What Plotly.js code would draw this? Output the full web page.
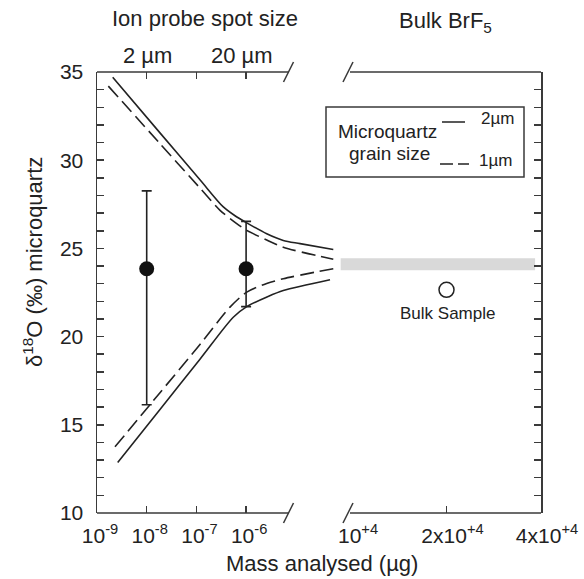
<!DOCTYPE html>
<html>
<head>
<meta charset="utf-8">
<script src="https://cdn.plot.ly/plotly-3.0.1.min.js"></script>
<style>
  html, body { margin: 0; padding: 0; background: #fff; }
  #chart { width: 584px; height: 579px; }
</style>
</head>
<body>
<div id="chart"></div>
<script>
// ---------- data ----------
// Model curves: mass analysed (µg) vs δ18O of microquartz
const upperSolidX  = [2.07e-9, 1.85e-8, 1.18e-7, 3.48e-7, 5.98e-7, 1.03e-6, 2.60e-6, 5.6e-6, 1.22e-5, 5.68e-5];
const upperSolidY  = [34.70, 31.55, 28.89, 27.35, 26.85, 26.45, 25.83, 25.45, 25.27, 24.94];
const upperDashedX = [1.69e-9, 1.85e-8, 1.18e-7, 2.99e-7, 5.98e-7, 1.03e-6, 2.60e-6, 5.6e-6, 5.68e-5];
const upperDashedY = [34.20, 30.94, 28.42, 27.16, 26.48, 26.02, 25.48, 25.07, 24.38];
const lowerDashedX = [2.30e-9, 1.85e-8, 1.18e-7, 4.74e-7, 1.03e-6, 2.60e-6, 5.6e-6, 5.68e-5];
const lowerDashedY = [13.75, 16.82, 19.55, 21.67, 22.52, 23.01, 23.28, 23.85];
const lowerSolidX  = [2.61e-9, 1.85e-8, 1.18e-7, 5.52e-7, 1.03e-6, 2.60e-6, 5.6e-6, 4.88e-5];
const lowerSolidY  = [12.86, 15.87, 18.72, 21.10, 21.70, 22.24, 22.61, 23.22];

// Ion probe measurements
const probeX      = [1e-8, 1e-6];
const probeY      = [23.85, 23.85];
const probeErrUp  = [4.41, 2.68];
const probeErrDn  = [7.71, 2.15];

// Bulk BrF5
const bulkBandX   = [9200, 38300];
const bulkBandY   = [24.1, 24.1];
const bulkSampleX = [2e4];
const bulkSampleY = [22.65];

// Tick labels
const leftTickVals  = [1e-9, 1e-8, 1e-7, 1e-6];
const leftTickText  = ["10<sup>-9</sup>", "10<sup>-8</sup>", "10<sup>-7</sup>", "10<sup>-6</sup>"];
const rightTickVals = [1e4, 2e4, 4e4];
const rightTickText = ["10<sup>+4</sup>", "2x10<sup>+4</sup>", "4x10<sup>+4</sup>"];
const yTickVals     = [10, 15, 20, 25, 30, 35];

// ---------- layout helpers ----------
const W = 584, H = 579, ML = 97, MR = 43, MT = 72, MB = 66;
const PW = W - ML - MR, PH = H - MT - MB;
const fx = px => (px - ML) / PW;
const fy = py => (H - MB - py) / PH;

const INK = '#222';
const AX = '#3a3a3a';
const FONT = 'Liberation Sans, Arial, sans-serif';

const lineSolid  = {color: INK, width: 1.6, shape: 'spline', smoothing: 0.8};
const lineDashed = {color: INK, width: 1.6, dash: '14px,6px', shape: 'spline', smoothing: 0.8};

const traces = [
  {x: upperSolidX, y: upperSolidY, mode: 'lines', line: lineSolid, xaxis: 'x', yaxis: 'y'},
  {x: upperDashedX, y: upperDashedY, mode: 'lines', line: lineDashed, xaxis: 'x', yaxis: 'y'},
  {x: lowerDashedX, y: lowerDashedY, mode: 'lines', line: lineDashed, xaxis: 'x', yaxis: 'y'},
  {x: lowerSolidX, y: lowerSolidY, mode: 'lines', line: lineSolid, xaxis: 'x', yaxis: 'y'},
  {x: probeX, y: probeY, mode: 'markers', xaxis: 'x', yaxis: 'y',
   marker: {color: '#111', size: 15},
   error_y: {type: 'data', symmetric: false, array: probeErrUp, arrayminus: probeErrDn,
             color: INK, thickness: 1.6, width: 5}},
  {x: bulkBandX, y: bulkBandY, mode: 'lines', xaxis: 'x2', yaxis: 'y2',
   line: {color: '#d9d9d9', width: 12}},
  {x: bulkSampleX, y: bulkSampleY, mode: 'markers', xaxis: 'x2', yaxis: 'y2',
   marker: {symbol: 'circle-open', size: 15, color: INK, line: {width: 1.5, color: INK}}}
];

const slash = (cx, cy) => ({type: 'line', xref: 'paper', yref: 'paper',
  x0: fx(cx - 5), y0: fy(cy + 10), x1: fx(cx + 5), y1: fy(cy - 10),
  line: {color: AX, width: 1.5}});
const hline = (x0, x1, py) => ({type: 'line', xref: 'paper', yref: 'paper',
  x0: fx(x0), x1: fx(x1), y0: fy(py), y1: fy(py), line: {color: AX, width: 1.5}});

const shapes = [
  hline(97, 289, 513), hline(97, 289, 72),
  hline(350, 541, 513), hline(350, 541, 72),
  slash(288.5, 513), slash(288.5, 72), slash(348, 513), slash(348, 72),
  // legend box
  {type: 'rect', xref: 'paper', yref: 'paper', x0: fx(326), x1: fx(524), y0: fy(177), y1: fy(107),
   line: {color: AX, width: 1.5}, fillcolor: 'rgba(0,0,0,0)'},
  {type: 'line', xref: 'paper', yref: 'paper', x0: fx(442), x1: fx(465), y0: fy(122), y1: fy(122),
   line: {color: INK, width: 1.5}},
  {type: 'line', xref: 'paper', yref: 'paper', x0: fx(440), x1: fx(469), y0: fy(164), y1: fy(164),
   line: {color: INK, width: 1.5, dash: '13px,5px'}}
];

const ann = (text, px, py, size, extra) => Object.assign({
  text: text, xref: 'paper', yref: 'paper', x: fx(px), y: fy(py),
  xanchor: 'center', yanchor: 'middle', showarrow: false,
  font: {family: FONT, size: size, color: INK}}, extra || {});

const annotations = [
  ann('Ion probe spot size', 205, 18, 22),
  ann('Bulk BrF<sub>5</sub>', 445, 22, 22),
  ann('2 µm', 147, 55, 22),
  ann('20 µm', 242, 55, 22),
  ann('Microquartz', 387, 131, 19),
  ann('grain size', 389, 153, 19),
  ann('2µm', 497, 119, 17),
  ann('1µm', 495, 160, 17),
  ann('Bulk Sample', 447, 313, 17),
  ann('Mass analysed (µg)', 322, 563, 22),
  ann('δ<sup>18</sup>O (‰) microquartz', 33, 262, 22, {textangle: -90})
];

const layout = {
  width: W, height: H,
  margin: {l: ML, r: MR, t: MT, b: MB, pad: 0},
  paper_bgcolor: '#fff', plot_bgcolor: 'rgba(0,0,0,0)',
  showlegend: false,
  font: {family: FONT, color: INK, size: 20},
  xaxis: {
    type: 'log', domain: [0, fx(336)], range: [-9, -9 + (336 - 97) / 49.7],
    anchor: 'y', showline: false, showgrid: false, zeroline: false,
    tickmode: 'array', tickvals: leftTickVals, ticktext: leftTickText,
    ticks: 'inside', ticklen: 7, tickwidth: 1.5, tickcolor: AX, mirror: 'ticks',
    tickfont: {family: FONT, size: 21, color: INK}, ticklabelshift: 3, ticklabelstandoff: 8
  },
  xaxis2: {
    type: 'log', domain: [fx(340), 1], range: [3.9617, Math.log10(4e4)],
    anchor: 'y2', showline: false, showgrid: false, zeroline: false,
    tickmode: 'array', tickvals: rightTickVals, ticktext: rightTickText,
    ticks: '', tickfont: {family: FONT, size: 21, color: INK}, ticklabelshift: 6, ticklabelstandoff: 8,
    minor: {tickmode: 'array', tickvals: [2e4], ticks: 'inside', ticklen: 7, tickwidth: 1.5, tickcolor: AX, showgrid: false}
  },
  yaxis: {
    domain: [0, 1], range: [10, 35], anchor: 'x', side: 'left',
    showline: true, linecolor: AX, linewidth: 1.5, showgrid: false, zeroline: false,
    tickmode: 'array', tickvals: yTickVals,
    ticks: 'inside', ticklen: 7, tickwidth: 1.5, tickcolor: AX,
    minor: {dtick: 1, ticks: 'inside', ticklen: 7, tickwidth: 1.5, tickcolor: AX, showgrid: false},
    tickfont: {family: FONT, size: 21, color: INK}, ticklabelstandoff: 8
  },
  yaxis2: {
    domain: [0, 1], range: [10, 35], anchor: 'x2', side: 'right',
    showline: true, linecolor: AX, linewidth: 1.5, showgrid: false, zeroline: false,
    showticklabels: false, tickmode: 'array', tickvals: yTickVals,
    ticks: 'inside', ticklen: 7, tickwidth: 1.5, tickcolor: AX,
    minor: {dtick: 1, ticks: 'inside', ticklen: 7, tickwidth: 1.5, tickcolor: AX, showgrid: false}
  },
  shapes: shapes,
  annotations: annotations
};

Plotly.newPlot('chart', traces, layout, {displayModeBar: false, staticPlot: true});
</script>
</body>
</html>
